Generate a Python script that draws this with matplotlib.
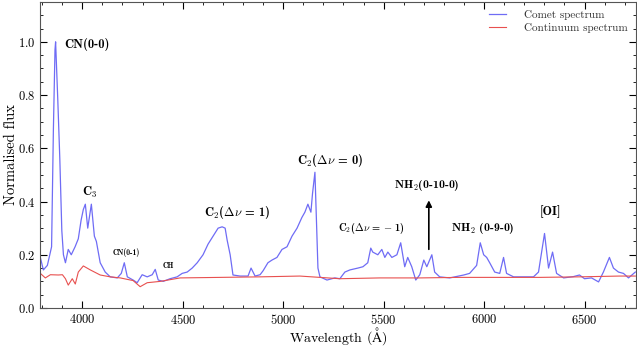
import matplotlib
matplotlib.use("Agg")
import matplotlib.pyplot as plt
from matplotlib.ticker import MultipleLocator

plt.rcParams['font.family'] = 'serif'
plt.rcParams['font.serif'] = ['cmr10', 'DejaVu Serif']
plt.rcParams['mathtext.fontset'] = 'cm'
plt.rcParams['axes.formatter.use_mathtext'] = True

# comet spectrum
comet_wl = [3791, 3806, 3826, 3847, 3856, 3864, 3867, 3878, 3888, 3898, 3906, 3916,
            3930, 3945, 3964, 3980, 3994, 4005, 4015, 4027, 4045, 4060, 4070, 4089,
            4114, 4139, 4174, 4194, 4209, 4224, 4253, 4273, 4298, 4323, 4348, 4363,
            4378, 4403, 4437, 4472, 4497, 4522, 4547, 4572, 4601, 4626, 4651, 4676,
            4696, 4711, 4721, 4736, 4750, 4785, 4825, 4840, 4860, 4885, 4900, 4924,
            4944, 4969, 4994, 5019, 5044, 5069, 5093, 5108, 5123, 5138, 5146, 5158,
            5173, 5183, 5218, 5257, 5282, 5307, 5332, 5372, 5397, 5421, 5436, 5446,
            5471, 5491, 5506, 5521, 5541, 5566, 5585, 5605, 5620, 5640, 5660, 5680,
            5700, 5715, 5740, 5754, 5779, 5829, 5899, 5928, 5963, 5981, 5998, 6013,
            6028, 6053, 6078, 6097, 6112, 6147, 6197, 6246, 6271, 6301, 6321, 6341,
            6361, 6396, 6445, 6475, 6500, 6535, 6570, 6594, 6624, 6644, 6669, 6694,
            6719, 6753]
comet_flux = [0.19, 0.143, 0.16, 0.23, 0.67, 0.97, 1.0, 0.78, 0.56, 0.29, 0.2, 0.17,
              0.22, 0.20, 0.23, 0.26, 0.33, 0.37, 0.39, 0.30, 0.39, 0.27, 0.25, 0.17,
              0.135, 0.117, 0.113, 0.13, 0.17, 0.117, 0.105, 0.095, 0.125, 0.117, 0.125, 0.145,
              0.105, 0.10, 0.11, 0.117, 0.13, 0.135, 0.15, 0.17, 0.20, 0.24, 0.27, 0.30,
              0.305, 0.30, 0.255, 0.20, 0.124, 0.12, 0.12, 0.15, 0.12, 0.125, 0.14, 0.17,
              0.18, 0.19, 0.22, 0.23, 0.27, 0.30, 0.34, 0.36, 0.39, 0.36, 0.43, 0.51,
              0.15, 0.117, 0.105, 0.113, 0.11, 0.135, 0.143, 0.15, 0.155, 0.17, 0.225, 0.21,
              0.20, 0.22, 0.19, 0.21, 0.19, 0.20, 0.245, 0.155, 0.19, 0.155, 0.105, 0.125,
              0.18, 0.155, 0.20, 0.135, 0.117, 0.113, 0.124, 0.13, 0.16, 0.245, 0.20, 0.19,
              0.17, 0.135, 0.13, 0.19, 0.13, 0.117, 0.117, 0.117, 0.135, 0.28, 0.15, 0.21,
              0.13, 0.113, 0.118, 0.124, 0.11, 0.113, 0.098, 0.135, 0.19, 0.15, 0.135, 0.13,
              0.113, 0.135]

# continuum spectrum
cont_wl = [3791, 3816, 3841, 3881, 3901, 3916, 3930, 3950, 3965, 3980, 4005, 4040,
           4089, 4139, 4189, 4253, 4288, 4323, 4388, 4487, 4686, 4885, 5083, 5282,
           5481, 5680, 5879, 6078, 6276, 6475, 6674, 6753]
cont_flux = [0.13, 0.113, 0.125, 0.124, 0.125, 0.11, 0.086, 0.11, 0.09, 0.135, 0.158, 0.143,
             0.124, 0.117, 0.113, 0.103, 0.08, 0.095, 0.10, 0.113, 0.115, 0.117, 0.12, 0.11,
             0.113, 0.113, 0.115, 0.115, 0.115, 0.117, 0.12, 0.12]

# band labels
labels = ['CN(0-0)', 'C$_3$', 'CN(0-1)', 'CH',
          r'C$_2$($\mathbf{\Delta}\nu$ = 1)', r'C$_2$($\mathbf{\Delta}\nu$ = 0)',
          r'C$_2$($\mathbf{\Delta}\nu$ = $-$ 1)', 'NH$_2$(0-10-0)',
          'NH$_2$ (0-9-0)', '[OI]']
label_wl = [3911, 4035, 4219, 4427, 4770, 5233, 5441, 5715, 5993, 6331]
label_flux = [0.99, 0.436, 0.207, 0.158, 0.357, 0.556, 0.297, 0.459, 0.297, 0.36]
label_size = [9, 9, 5.5, 5.5, 9, 9, 7.5, 8.5, 8.5, 9]
label_ha = ['left', 'center', 'center', 'center', 'center', 'center', 'center',
            'center', 'center', 'center']

arrow_wl = 5725
arrow_flux = (0.21, 0.415)

fig = plt.figure(figsize=(6.37, 3.49), dpi=100)
ax = fig.add_axes([0.063, 0.1175, 0.935, 0.877])

ax.plot(comet_wl, comet_flux, color='#6f6cf5', lw=0.9, label='Comet spectrum')
ax.plot(cont_wl, cont_flux, color='#e8504f', lw=0.8, label='Continuum spectrum')

for t, w, f, s, ha in zip(labels, label_wl, label_flux, label_size, label_ha):
    ax.text(w, f, t, fontsize=s, ha=ha, va='center', family=['cmb10', 'DejaVu Serif'])

ax.annotate('', xy=(arrow_wl, arrow_flux[1]), xytext=(arrow_wl, arrow_flux[0]),
            arrowprops=dict(arrowstyle='-|>', color='black', lw=1.2, mutation_scale=9))

ax.set_xlim(3790, 6755)
ax.set_ylim(0, 1.15)
ax.xaxis.set_major_locator(MultipleLocator(500))
ax.xaxis.set_minor_locator(MultipleLocator(100))
ax.yaxis.set_major_locator(MultipleLocator(0.2))
ax.yaxis.set_minor_locator(MultipleLocator(0.05))
ax.tick_params(which='both', direction='in', top=True, right=True, labelsize=9)
ax.tick_params(which='major', length=5)
ax.tick_params(which='minor', length=2.5)
for sp in ax.spines.values():
    sp.set_color('#555555')

ax.set_xlabel(r'Wavelength ($\mathrm{\AA}$)', fontsize=10, labelpad=-1)
ax.set_ylabel('Normalised flux', fontsize=10.5, labelpad=0)

leg = ax.legend(loc='upper right', frameon=False, fontsize=8, handlelength=1.6,
                handletextpad=1.6, labelspacing=0.3, borderaxespad=0.3)
for t in leg.get_texts():
    t.set_color('#333333')

fig.savefig('out.png', dpi=100)
